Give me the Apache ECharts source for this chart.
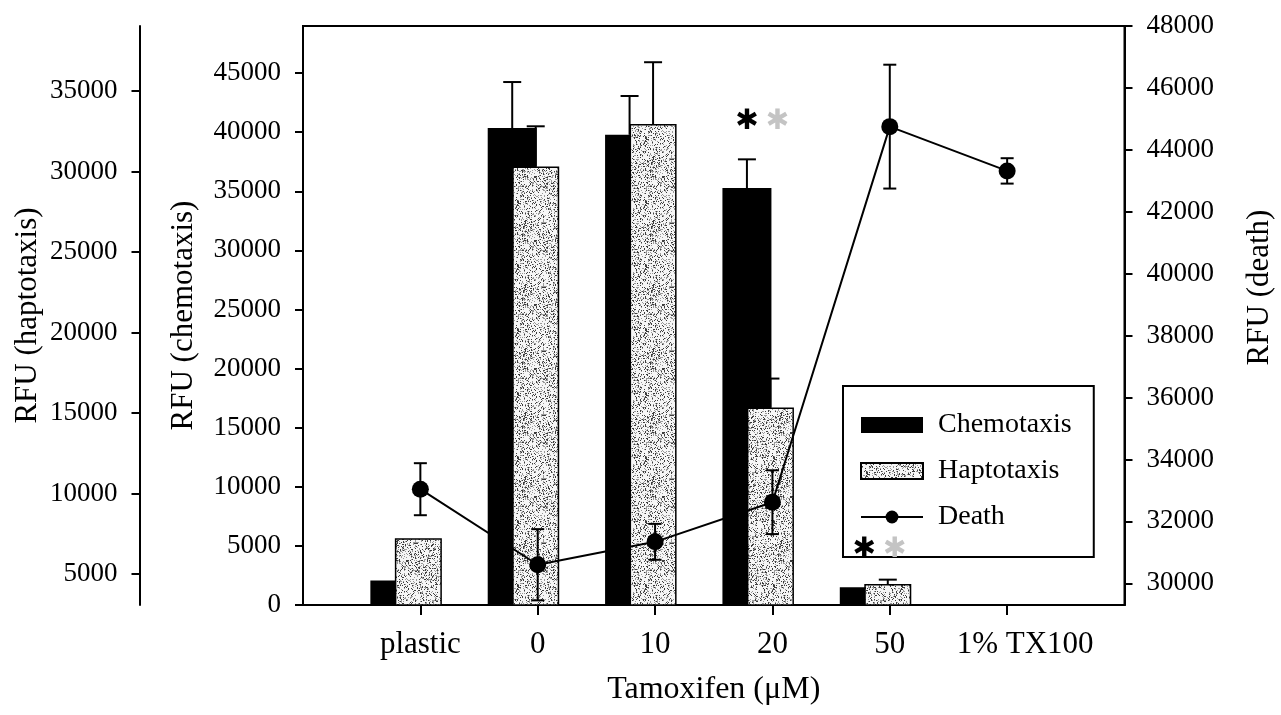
<!DOCTYPE html>
<html>
<head>
<meta charset="utf-8">
<script src="https://cdn.jsdelivr.net/npm/echarts@6/dist/echarts.min.js"></script>
<style>
  html, body { margin: 0; padding: 0; background: #fff; }
  #chart { width: 1281px; height: 715px; }
</style>
</head>
<body>
<div id="chart"></div>
<script>
// Tamoxifen dose series: chemotaxis / haptotaxis migration (bars) and cell death (line)
const categories = ['plastic', '0', '10', '20', '50', '1% TX100'];
const chemotaxis = [2080, 40350, 39780, 35270, 1500, null];
const chemotaxisErr = [null, 3890, 3280, 2430, null, null];
const haptotaxis = [7220, 30320, 32950, 15340, 4380, null];
const haptotaxisErr = [null, 2490, 3840, 1800, 270, null];
const death = [33040, 30600, 31340, 32620, 44750, 43320];
const deathErr = [840, 1150, 580, 1030, 2000, 410];
const significant = [false, false, false, true, true, false];

const chemTicks = [0, 5000, 10000, 15000, 20000, 25000, 30000, 35000, 40000, 45000];
const hapTicks = [5000, 10000, 15000, 20000, 25000, 30000, 35000];
const deathTicks = [30000, 32000, 34000, 36000, 38000, 40000, 42000, 44000, 46000, 48000];

const FONT = "'Liberation Serif', 'Times New Roman', serif";

// bar geometry: the two bars overlap by half a width; a trailing empty slot
// pulls the pair to the left of each tick so the death markers sit on the haptotaxis bar
const CHEM_W = 49, HAP_W = 47, SLOT_W = 52, GAP = -0.5;
const groupWidth = CHEM_W * (1 + GAP) + HAP_W * (1 + GAP) + SLOT_W;
const chemOffset = -groupWidth / 2 + CHEM_W / 2;
const hapOffset = -groupWidth / 2 + CHEM_W * (1 + GAP) + HAP_W / 2;

// speckled grey fill for the haptotaxis bars
function stipple() {
  const c = document.createElement('canvas');
  c.width = c.height = 64;
  const g = c.getContext('2d');
  g.fillStyle = '#f6f6f6';
  g.fillRect(0, 0, 64, 64);
  let s = 12345;
  for (let y = 0; y < 64; y++) {
    for (let x = 0; x < 64; x++) {
      s = (s * 1103515245 + 12345) & 0x7fffffff;
      const r = (s >> 16) % 100;
      if (r < 14) { g.fillStyle = '#3c3c3c'; g.fillRect(x, y, 1, 1); }
      else if (r < 30) { g.fillStyle = '#9a9a9a'; g.fillRect(x, y, 1, 1); }
    }
  }
  return c;
}
const hapFill = { image: stipple(), repeat: 'repeat' };

const axisCats = [''].concat(categories, ['']);
const lastCat = categories[categories.length - 1];

function pairs(values, errs) {
  return categories.map((c, i) => errs ? [c, values[i], errs[i]] : [c, values[i]]);
}

function whisker(offset, capHalf, both) {
  return function (params, api) {
    const v = api.value(1), e = api.value(2);
    if (e == null || isNaN(e)) return;
    const x0 = api.value(0);
    const mid = api.coord([x0, v]);
    const top = api.coord([x0, v + e]);
    const x = mid[0] + offset;
    const st = { stroke: '#000', lineWidth: 2 };
    const kids = [
      { type: 'line', shape: { x1: x, y1: mid[1], x2: x, y2: top[1] }, style: st },
      { type: 'line', shape: { x1: x - capHalf, y1: top[1], x2: x + capHalf, y2: top[1] }, style: st }
    ];
    if (both) {
      const bot = api.coord([x0, v - e]);
      kids.push({ type: 'line', shape: { x1: x, y1: mid[1], x2: x, y2: bot[1] }, style: st });
      kids.push({ type: 'line', shape: { x1: x - capHalf, y1: bot[1], x2: x + capHalf, y2: bot[1] }, style: st });
    }
    return { type: 'group', children: kids };
  };
}

const starData = categories
  .map((c, i) => [c, (chemotaxis[i] || 0) + (chemotaxisErr[i] || 0)])
  .filter((d, i) => significant[i]);

function stars(params, api) {
  const p = api.coord([api.value(0), api.value(1)]);
  const y = p[1] - 38;
  const base = { fontSize: 28, fontFamily: 'DejaVu Sans', align: 'center', verticalAlign: 'middle', textAlign: 'center', textVerticalAlign: 'middle' };
  return {
    type: 'group',
    children: [
      { type: 'text', x: p[0] + chemOffset, y: y, style: Object.assign({ text: '\u2731', fill: '#000' }, base) },
      { type: 'text', x: p[0] + hapOffset + 7, y: y, style: Object.assign({ text: '\u2731', fill: '#c4c4c4' }, base) }
    ]
  };
}

const plain = (v) => String(v);

function valueAxis(name, ticks, extra) {
  return Object.assign({
    type: 'value',
    name: name,
    nameLocation: 'middle',
    nameRotate: 90,
    nameMoveOverlap: false,
    nameTextStyle: { fontFamily: FONT, fontSize: 31, color: '#000' },
    axisLine: { show: true, lineStyle: { color: '#000', width: 2 } },
    axisTick: { show: true, inside: false, length: 8, customValues: ticks, lineStyle: { color: '#000', width: 2 } },
    axisLabel: { margin: 22, fontFamily: FONT, fontSize: 27, color: '#000', customValues: ticks, formatter: plain },
    splitLine: { show: false }
  }, extra);
}

const chart = echarts.init(document.getElementById('chart'), null, { renderer: 'canvas' });
chart.setOption({
  animation: false,
  backgroundColor: '#fff',
  grid: {
    left: 303, right: 156.5, top: 26, bottom: 110,
    show: true, borderColor: '#000', borderWidth: 2, backgroundColor: 'transparent',
    outerBoundsMode: 'none', containLabel: false
  },
  legend: {
    orient: 'vertical', left: 843, top: 386,
    data: [{ name: 'Chemotaxis', icon: 'rect' }, { name: 'Haptotaxis', icon: 'rect' }, { name: 'Death' }],
    itemWidth: 62, itemHeight: 16, itemGap: 18,
    padding: [25, 22, 26, 17],
    borderColor: '#000', borderWidth: 2, backgroundColor: '#fff',
    selectedMode: false,
    textStyle: { fontFamily: FONT, fontSize: 28, color: '#000', padding: [0, 0, 0, 10] }
  },
  xAxis: {
    type: 'category',
    data: axisCats,
    boundaryGap: false,
    name: 'Tamoxifen (\u03bcM)',
    nameLocation: 'middle',
    nameGap: 69,
    nameMoveOverlap: false,
    nameTextStyle: { fontFamily: FONT, fontSize: 32, color: '#000' },
    axisLine: { lineStyle: { color: '#000', width: 2 } },
    axisTick: { length: 10, interval: (i) => i > 0 && i < axisCats.length - 1, lineStyle: { color: '#000', width: 2 } },
    axisLabel: {
      interval: 0, margin: 24, fontFamily: FONT, fontSize: 31, color: '#000',
      formatter: (v) => v === lastCat ? '{wide|' + v + '}' : v,
      rich: { wide: { fontFamily: FONT, fontSize: 31, color: '#000', padding: [0, 0, 0, 36] } }
    },
    splitLine: { show: false }
  },
  yAxis: [
    valueAxis('RFU (chemotaxis)', chemTicks, { position: 'left', nameGap: 104, min: 0, max: 48980 }),
    valueAxis('RFU (haptotaxis)', hapTicks, { position: 'left', offset: 163.5, nameGap: 96, min: 3075, max: 39040 }),
    valueAxis('RFU (death)', deathTicks, {
      position: 'right', nameGap: 120, min: 29300, max: 48000,
      nameTextStyle: { fontFamily: FONT, fontSize: 31, color: '#000', padding: [0, 0, 0, 56] }
    })
  ],
  series: [
    {
      name: 'Chemotaxis', type: 'bar', yAxisIndex: 0, data: pairs(chemotaxis),
      barWidth: CHEM_W, barGap: '-50%', clip: true, z: 2,
      itemStyle: { color: '#000' }
    },
    {
      name: 'Haptotaxis', type: 'bar', yAxisIndex: 1, data: pairs(haptotaxis),
      barWidth: HAP_W, barGap: '-50%', clip: true, z: 2,
      itemStyle: { color: hapFill, borderColor: '#000', borderWidth: 1.5 }
    },
    {
      name: 'slot', type: 'bar', yAxisIndex: 0, data: [],
      barWidth: SLOT_W, barGap: '-50%', silent: true
    },
    {
      name: 'chemotaxis error', type: 'custom', yAxisIndex: 0, z: 4,
      data: pairs(chemotaxis, chemotaxisErr).filter(d => d[2] != null),
      renderItem: whisker(chemOffset, 9, false)
    },
    {
      name: 'haptotaxis error', type: 'custom', yAxisIndex: 1, z: 4,
      data: pairs(haptotaxis, haptotaxisErr).filter(d => d[2] != null),
      renderItem: whisker(hapOffset, 9, false)
    },
    {
      name: 'Death', type: 'line', yAxisIndex: 2, data: pairs(death), z: 5,
      symbol: 'circle', symbolSize: 17,
      itemStyle: { color: '#000' },
      lineStyle: { color: '#000', width: 2 }
    },
    {
      name: 'death error', type: 'custom', yAxisIndex: 2, z: 6,
      data: pairs(death, deathErr),
      renderItem: whisker(0, 6.5, true)
    },
    {
      name: 'significance', type: 'custom', yAxisIndex: 0, z: 6,
      data: starData,
      renderItem: stars
    }
  ]
});
</script>
</body>
</html>
